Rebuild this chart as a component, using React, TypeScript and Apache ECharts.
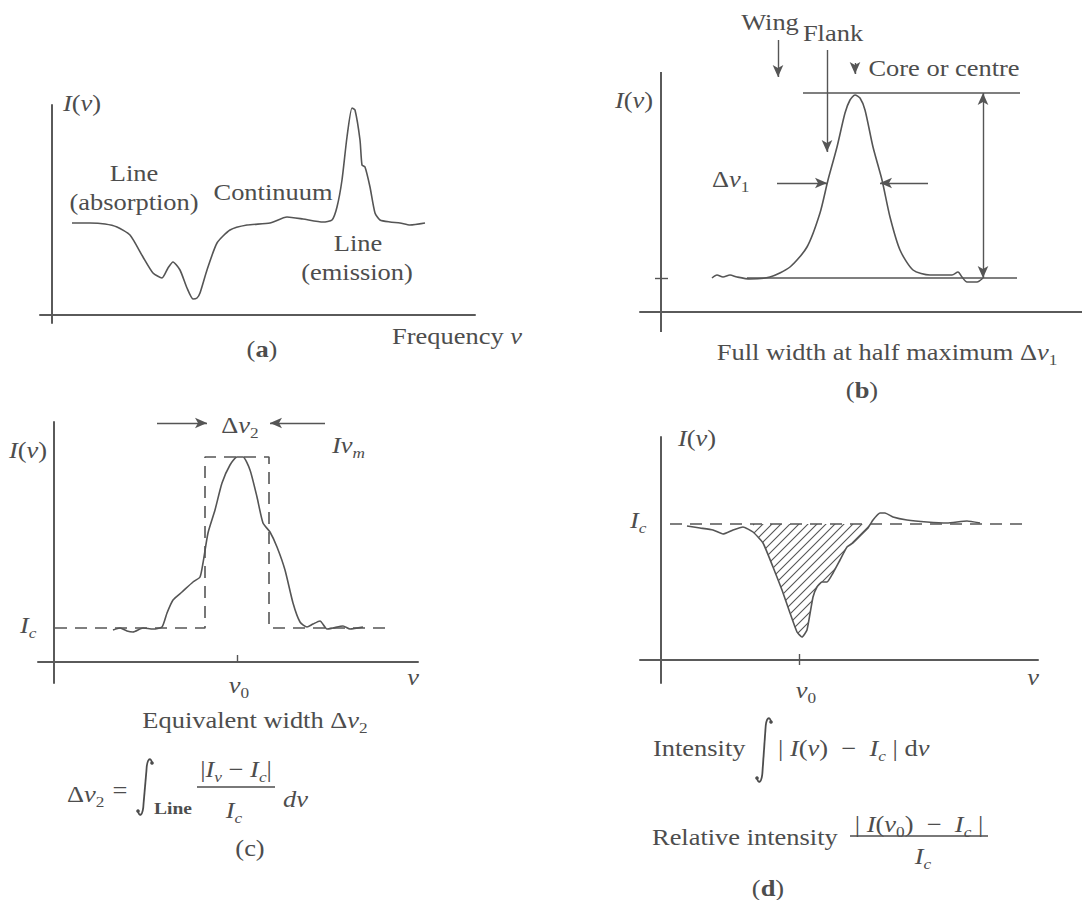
import React, { useEffect, useRef } from "react";
import * as echarts from "echarts";

// Panel (a): spectrum with absorption and emission lines (x, y in panel units)
const curveA: number[][] = [
  [20, 92], [38, 92], [53, 91], [65, 88], [78, 80], [91, 58], [101, 42], [110, 37], [116, 47],
  [121, 53], [128, 45], [135, 27], [141, 16], [145, 17], [148, 22], [155, 45], [165, 72],
  [178, 85], [195, 90], [218, 92], [235, 98], [251, 96], [271, 93], [280, 95], [285, 108],
  [290, 135], [295, 178], [300, 207], [303, 205], [308, 175], [310, 150], [313, 148], [318, 128],
  [323, 102], [328, 95], [338, 93], [348, 92], [358, 90], [373, 92],
];

// Panel (b): emission line profile
const curveB: number[][] = [
  [51, 34], [56, 37], [62, 35], [69, 37], [76, 35], [89, 33], [109, 35], [129, 45], [146, 65],
  [159, 99], [167, 132], [176, 165], [184, 199], [189, 212], [194, 217], [199, 214], [204, 202],
  [212, 165], [221, 132], [229, 95], [239, 62], [252, 42], [269, 37], [291, 37], [297, 40],
  [301, 35], [306, 30], [316, 30], [322, 34],
];
const topLineB: number[][] = [[142, 219], [359, 219]];
const baseLineB: number[][] = [[86, 34], [356, 34]];
const yAxisLineB: number[][] = [[0, -20], [0, 240]];

// Panel (c): equivalent width
const curveC: number[][] = [
  [59, 32], [66, 34], [73, 31], [79, 30], [89, 34], [99, 33], [108, 35], [113, 49], [119, 62],
  [128, 70], [139, 80], [146, 85], [149, 99], [154, 129], [161, 152], [168, 179], [176, 197],
  [183, 205], [189, 205], [196, 192], [203, 165], [209, 139], [216, 130], [223, 115], [231, 92],
  [239, 59], [246, 40], [253, 35], [259, 38], [266, 41], [273, 33], [279, 34], [289, 36],
  [296, 33], [309, 35],
];
const boxC: number[][] = [[1, 34], [151, 34], [151, 205], [215, 205], [215, 34], [333, 34]];

// Panel (d): absorption line intensity
const curveD: number[][] = [
  [26, 134], [39, 132], [52, 130], [62, 126], [72, 130], [82, 133], [92, 128], [102, 117],
  [112, 93], [121, 70], [129, 47], [136, 28], [141, 23], [146, 30], [152, 63], [156, 73],
  [161, 78], [166, 78], [172, 87], [179, 100], [186, 113], [192, 117], [202, 127], [207, 132],
  [212, 140], [219, 147], [224, 147], [232, 143], [246, 140], [266, 138], [286, 137],
  [306, 139], [319, 137],
];
const hatchD: number[][] = [
  [92, 136], [92, 128], [102, 117], [112, 93], [121, 70], [129, 47], [136, 28], [141, 23],
  [146, 30], [152, 63], [156, 73], [161, 78], [166, 78], [172, 87], [179, 100], [186, 113],
  [192, 117], [202, 127], [207, 132], [210, 136],
];
const icD: number[][] = [[9, 136], [361, 136]];

const F = "'Liberation Serif', 'Times New Roman', 'DejaVu Serif', serif";
const C = "#4d4d4d";
const LC = "#555555";
const SX = 1.15;

const rich = (size = 23) => ({
  r: { fontFamily: F, fontSize: size, fill: C, lineHeight: 30, verticalAlign: "middle" },
  i: { fontFamily: F, fontSize: size, fill: C, fontStyle: "italic", lineHeight: 30, verticalAlign: "middle" },
  b: { fontFamily: F, fontSize: size, fill: C, fontWeight: "bold", lineHeight: 30, verticalAlign: "middle" },
  s: { fontFamily: F, fontSize: 15, fill: C, lineHeight: 16, verticalAlign: "bottom" },
  si: { fontFamily: F, fontSize: 15, fill: C, fontStyle: "italic", lineHeight: 16, verticalAlign: "bottom" },
  sb: { fontFamily: F, fontSize: 17, fill: C, fontWeight: "bold", lineHeight: 14, verticalAlign: "bottom" },
});

const txt = (x: number, y: number, text: string, align = "left", size = 23) => ({
  type: "text",
  x,
  y,
  scaleX: SX,
  silent: true,
  style: {
    text,
    rich: rich(size),
    fill: C,
    fontFamily: F,
    fontSize: size,
    align,
    textAlign: align,
    verticalAlign: "middle",
    textVerticalAlign: "middle",
  },
});

// integral sign drawn from thin curves, centred at (cx, cy), height h
const integral = (cx: number, cy: number, h: number) => {
  const hh = h / 2;
  const w = 7;
  const st = { stroke: C, lineWidth: 1.8, fill: "none" };
  return [
    {
      type: "bezierCurve", silent: true,
      shape: { x1: cx + w, y1: cy - hh + 5, cpx1: cx + w - 1, cpy1: cy - hh - 1, cpx2: cx + 2, cpy2: cy - hh - 1, x2: cx + 1.4, y2: cy - hh + 13 },
      style: st,
    },
    {
      type: "line", silent: true,
      shape: { x1: cx + 1.4, y1: cy - hh + 13, x2: cx - 1.4, y2: cy + hh - 13 },
      style: st,
    },
    {
      type: "bezierCurve", silent: true,
      shape: { x1: cx - 1.4, y1: cy + hh - 13, cpx1: cx - 2, cpy1: cy + hh + 1, cpx2: cx - w + 1, cpy2: cy + hh + 1, x2: cx - w, y2: cy + hh - 5 },
      style: st,
    },
    { type: "circle", silent: true, shape: { cx: cx + w, cy: cy - hh + 5, r: 1.8 }, style: { fill: C } },
    { type: "circle", silent: true, shape: { cx: cx - w, cy: cy + hh - 5, r: 1.8 }, style: { fill: C } },
  ];
};

const bar = (x1: number, x2: number, y: number) => ({
  type: "line",
  silent: true,
  shape: { x1, y1: y, x2, y2: y },
  style: { stroke: C, lineWidth: 1.3 },
});

function makeHatch() {
  const c = document.createElement("canvas");
  const n = 9;
  c.width = n;
  c.height = n;
  const g = c.getContext("2d")!;
  g.strokeStyle = "#555";
  g.lineWidth = 1.1;
  g.beginPath();
  g.moveTo(0, n);
  g.lineTo(n, 0);
  g.moveTo(-2, 2);
  g.lineTo(2, -2);
  g.moveTo(n - 2, n + 2);
  g.lineTo(n + 2, n - 2);
  g.stroke();
  return c;
}

const axisCfg = (gridIndex: number, min: number, max: number, showLine = true) => ({
  type: "value",
  gridIndex,
  min,
  max,
  axisLine: { show: showLine, onZero: true, lineStyle: { color: "#5a5a5a", width: 2 } },
  axisTick: { show: false },
  axisLabel: { show: false },
  splitLine: { show: false },
});

const seg = (a: number[], b: number[], s1 = "none", s2 = "arrow") => [
  { coord: a, symbol: s1 },
  { coord: b, symbol: s2 },
];

const curveStyle = { color: LC, width: 1.6 };

export default function App() {
  const ref = useRef<HTMLDivElement>(null);
  useEffect(() => {
    if (!ref.current) return;
    const chart = echarts.init(ref.current, undefined, { renderer: "svg" });
    const ml = (data: any[]) => ({
      silent: true,
      animation: false,
      symbolSize: [8, 12],
      label: { show: false },
      lineStyle: { type: "solid", color: LC, width: 1.4 },
      data,
    });
    const option: any = {
      animation: false,
      backgroundColor: "#ffffff",
      grid: [
        { left: 40, top: 105, width: 435, height: 218 },
        { left: 640, top: 20, width: 442, height: 312 },
        { left: 38, top: 422, width: 380, height: 261 },
        { left: 640, top: 437, width: 398, height: 246 },
      ],
      xAxis: [axisCfg(0, -12, 423), axisCfg(1, -21, 421), axisCfg(2, -16, 364), axisCfg(3, -21, 377)],
      yAxis: [axisCfg(0, -8, 210), axisCfg(1, -20, 292, false), axisCfg(2, -21, 240), axisCfg(3, -23, 223)],
      series: [
        {
          type: "line", xAxisIndex: 0, yAxisIndex: 0, data: curveA, symbol: "none",
          smooth: 0.2, lineStyle: curveStyle,
        },
        {
          type: "line", xAxisIndex: 1, yAxisIndex: 1, data: yAxisLineB, symbol: "none",
          lineStyle: { color: "#5a5a5a", width: 2 },
        },
        {
          type: "line", xAxisIndex: 1, yAxisIndex: 1, data: curveB, symbol: "none",
          smooth: 0.25, lineStyle: curveStyle,
          markLine: ml([
            seg([-6, 34], [7, 34], "none", "none"),
            seg([322, 34], [322, 219], "arrow", "arrow"),
            seg([117, 272], [117, 235]),
            seg([166, 262], [166, 160]),
            seg([194, 249], [194, 238]),
            seg([116, 129], [166, 129]),
            seg([267, 129], [219, 129]),
          ]),
        },
        { type: "line", xAxisIndex: 1, yAxisIndex: 1, data: topLineB, symbol: "none", lineStyle: { color: LC, width: 1.4 } },
        { type: "line", xAxisIndex: 1, yAxisIndex: 1, data: baseLineB, symbol: "none", lineStyle: { color: LC, width: 1.4 } },
        {
          type: "line", xAxisIndex: 2, yAxisIndex: 2, data: curveC, symbol: "none",
          smooth: 0.2, lineStyle: curveStyle,
          markLine: ml([
            seg([103, 239], [153, 239]),
            seg([271, 239], [216, 239]),
            seg([183, 0], [183, 7], "none", "none"),
          ]),
        },
        {
          type: "line", xAxisIndex: 2, yAxisIndex: 2, data: boxC, symbol: "none",
          lineStyle: { color: LC, width: 1.6, type: [12, 8] },
        },
        {
          type: "line", xAxisIndex: 3, yAxisIndex: 3, data: hatchD, symbol: "none",
          lineStyle: { width: 0 },
          areaStyle: { color: { image: makeHatch(), repeat: "repeat" }, origin: 136, opacity: 1 },
        },
        {
          type: "line", xAxisIndex: 3, yAxisIndex: 3, data: icD, symbol: "none",
          lineStyle: { color: LC, width: 1.6, type: [12, 8] },
        },
        {
          type: "line", xAxisIndex: 3, yAxisIndex: 3, data: curveD, symbol: "none",
          smooth: 0.15, lineStyle: curveStyle,
          markLine: ml([seg([138, -5], [138, 6], "none", "none")]),
        },
      ],
      graphic: [
        // (a)
        txt(63, 103, "{i|I}{r|(}{i|ν}{r|)}"),
        txt(134, 173, "{r|Line}", "center"),
        txt(134, 202, "{r|(absorption)}", "center"),
        txt(273, 192, "{r|Continuum}", "center"),
        txt(358, 243, "{r|Line}", "center"),
        txt(357, 272, "{r|(emission)}", "center"),
        txt(457, 336, "{r|Frequency }{i|ν}", "center"),
        txt(262, 349, "{r|(}{b|a}{r|)}", "center"),
        // (b)
        txt(770, 22, "{r|Wing}", "center"),
        txt(833, 33, "{r|Flank}", "center"),
        txt(944, 68, "{r|Core or centre}", "center"),
        txt(634, 100, "{i|I}{r|(}{i|ν}{r|)}", "center"),
        txt(712, 179, "{r|Δ}{i|ν}{s|1}"),
        txt(887, 352, "{r|Full width at half maximum Δ}{i|ν}{s|1}", "center"),
        txt(862, 390, "{r|(}{b|b}{r|)}", "center"),
        // (c)
        txt(28, 450, "{i|I}{r|(}{i|ν}{r|)}", "center"),
        txt(20, 625, "{i|I}{si|c}"),
        txt(240, 425, "{r|Δ}{i|ν}{s|2}", "center"),
        txt(332, 445, "{i|Iν}{si|m}"),
        txt(239, 685, "{i|ν}{s|0}", "center"),
        txt(413, 677, "{i|ν}", "center"),
        txt(255, 720, "{r|Equivalent width Δ}{i|ν}{s|2}", "center"),
        txt(67, 794, "{r|Δ}{i|ν}{s|2}"),
        txt(120, 790, "{r|=}", "center"),
        ...integral(145, 787, 58),
        txt(154, 810, "{sb|Line}"),
        txt(236, 769, "{r||}{i|I}{si|ν}{r| − }{i|I}{si|c}{r||}", "center"),
        bar(197, 275, 787),
        txt(234, 810, "{i|I}{si|c}", "center"),
        txt(283, 799, "{i|dν}"),
        txt(250, 848, "{r|(c)}", "center"),
        // (d)
        txt(678, 438, "{i|I}{r|(}{i|ν}{r|)}"),
        txt(630, 520, "{i|I}{si|c}"),
        txt(806, 690, "{i|ν}{s|0}", "center"),
        txt(1033, 677, "{i|ν}", "center"),
        txt(653, 748, "{r|Intensity}"),
        ...integral(764, 750, 66),
        txt(778, 748, "{r|| }{i|I}{r|(}{i|ν}{r|)  −  }{i|I}{si|c}{r| | d}{i|ν}"),
        txt(652, 837, "{r|Relative intensity}"),
        txt(919, 824, "{r|| }{i|I}{r|(}{i|ν}{s|0}{r|)  −  }{i|I}{si|c}{r| |}", "center"),
        bar(850, 988, 836),
        txt(923, 856, "{i|I}{si|c}", "center"),
        txt(768, 888, "{r|(}{b|d}{r|)}", "center"),
      ],
    };
    chart.setOption(option);
    return () => chart.dispose();
  }, []);
  return (
    <div
      ref={ref}
      style={{ position: "absolute", left: 0, top: 0, width: 1082, height: 900, background: "#fff" }}
    />
  );
}
